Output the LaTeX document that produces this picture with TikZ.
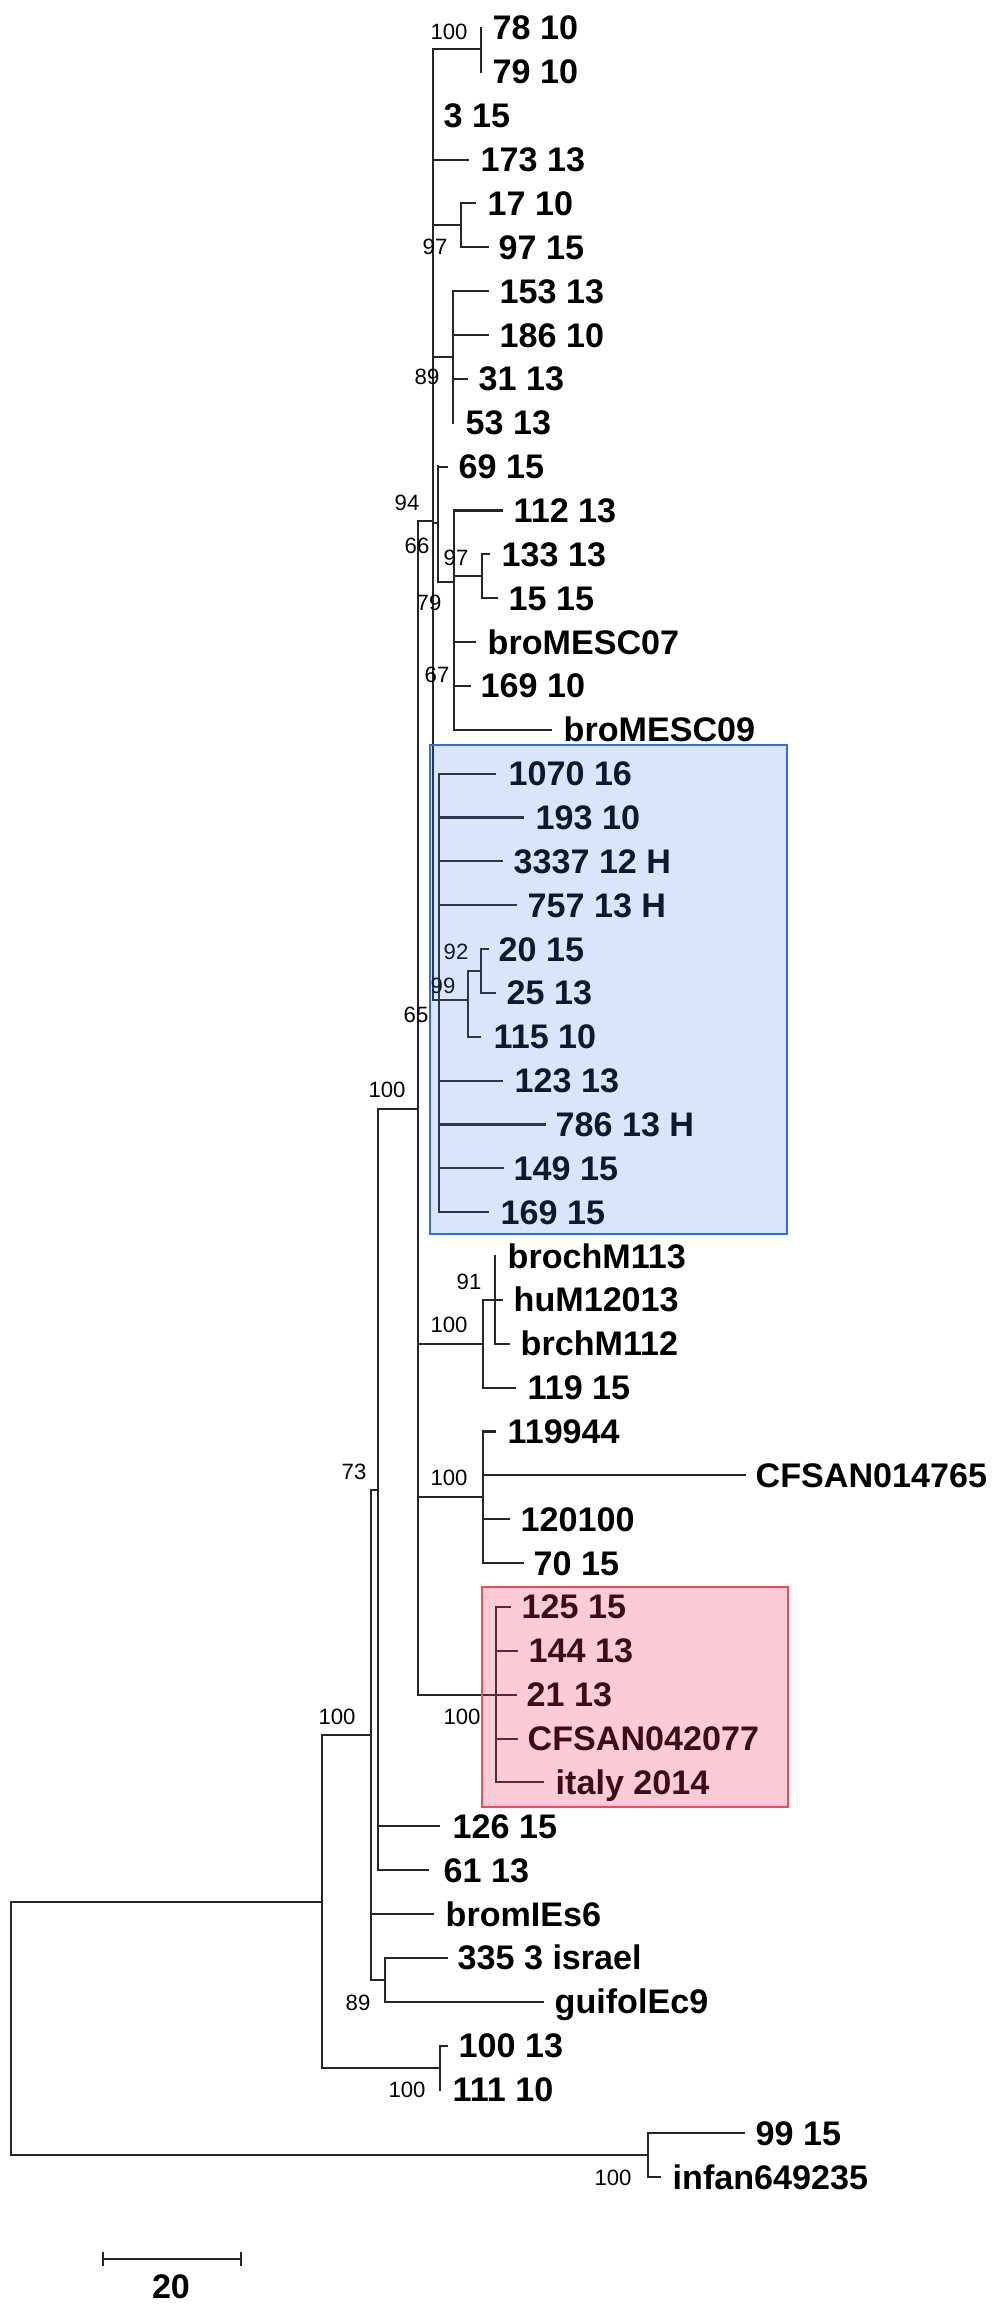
\documentclass[tikz,border=0pt]{standalone}
\usepackage{fontspec}
\setmainfont{Liberation Sans}
\usepackage{xcolor}
\usetikzlibrary{positioning}

\definecolor{boxblue}{RGB}{74,125,232}
\definecolor{boxblueline}{RGB}{45,110,225}
\definecolor{boxred}{RGB}{240,50,100}
\definecolor{boxredline}{RGB}{235,80,80}

\tikzset{
	branch/.style={line width=0.6pt, black!85, line cap=rect},
	leaf/.style={anchor=base west, inner sep=0pt, font=\fontsize{9.7}{10}\selectfont\bfseries},
	boot/.style={inner sep=0pt, font=\fontsize{6.3}{7}\selectfont},
	bluebox/.style={draw=boxblueline, line width=0.8pt, fill=boxblue, fill opacity=0.2},
	redbox/.style={draw=boxredline, line width=0.8pt, fill=boxred, fill opacity=0.25},
}

\begin{document}
\begin{tikzpicture}[x=0.01cm, y=-0.01cm]
	\useasboundingbox (0,0) rectangle (1000,2310);
	
	%//inner nodes, vertical parts
	\foreach \x/\ya/\yb in {11/1902/2155, 322/1735/2068, 371/1490/1980, 378/1109/1870,
		385/1958/2002, 440/2046/2090, 648/2133/2177, 418/521/1695, 433/49/1000,
		481/28/72, 461/203/247, 453/291/423, 438/466/582, 454/510/730, 482/554/598,
		439/774/1212, 468/972/1037, 481/949/993, 483/1300/1388, 495/1256/1344,
		483/1432/1563, 496/1607/1782}
	\draw[branch] (\x,\ya) -- (\x,\yb);
	
	%//stems
	\foreach \y/\xa/\xb in {1902/11/322, 2155/11/648, 1735/322/371, 2068/322/440,
		1490/371/378, 1980/371/385, 1109/378/418, 521/418/433, 1344/418/483,
		1497/418/483, 1695/418/496, 49/433/481, 225/433/461, 357/433/453,
		523/433/438, 582/438/454, 576/454/482, 1000/433/468, 971/468/481, 1300/483/495}
	\draw[branch] (\xa,\y) -- (\xb,\y);
	
	%//leaves: index/start/end/text
	\foreach \i/\s/\e/\t/\val in {0/481/481/492/78 10, 1/481/481/492/79 10,
		2/433/433/443/3 15, 3/433/468/480/173 13, 4/461/475/487/17 10,
		5/461/488/498/97 15, 6/453/488/499/153 13, 7/453/488/499/186 10,
		8/453/467/478/31 13, 9/453/453/465/53 13, 10/438/447/458/69 15,
		11/454/502/513/112 13, 12/482/489/501/133 13, 13/482/497/508/15 15,
		14/454/475/487/broMESC07, 15/454/470/480/169 10, 16/454/551/563/broMESC09,
		17/439/495/508/1070 16, 18/439/523/535/193 10, 19/439/502/513/3337 12 H,
		20/439/516/527/757 13 H, 21/481/488/498/20 15, 22/481/495/506/25 13,
		23/468/480/493/115 10, 24/439/502/514/123 13, 25/439/545/555/786 13 H,
		26/439/503/513/149 15, 27/439/488/500/169 15, 28/495/495/507/brochM113,
		29/495/502/513/huM12013, 30/495/509/520/brchM112, 31/483/515/527/119 15,
		32/483/495/507/119944, 33/483/745/755/CFSAN014765, 34/483/509/520/120100,
		35/483/523/533/70 15, 36/496/510/521/125 15, 37/496/517/528/144 13,
		38/496/516/526/21 13, 39/496/517/527/CFSAN042077, 40/496/543/555/italy 2014,
		41/378/439/452/126 15, 42/378/428/443/61 13, 43/371/433/445/bromIEs6,
		44/385/447/457/335 3 israel, 45/385/543/554/guifolEc9, 46/440/447/458/100 13,
		47/440/440/452/111 10, 48/648/744/755/99 15, 49/648/660/672/infan649235}
	{
		\pgfmathsetmacro{\yy}{28+43.86*\i}
		\ifdim\s pt<\e pt \draw[branch] (\s,\yy) -- (\e,\yy); \fi
		\node[leaf] (leaf\i) at (\t,\yy+12) {\val};
	}
	
	%//bootstrap values
	\foreach \x/\y/\val [count=\n] in {449/32/100, 435/247/97, 427/377/89, 407/503/94,
		417/546/66, 456/558/97, 429/603/79, 437/675/67, 456/952/92, 443/986/99,
		416/1015/65, 387/1090/100, 469/1282/91, 449/1325/100, 449/1478/100,
		354/1472/73, 337/1717/100, 462/1717/100, 358/2003/89, 407/2090/100, 613/2178/100}
	\node[boot] (boot\n) at (\x,\y) {\val};
	
	%//highlighted groups
	\draw[bluebox] (430,745) rectangle (787,1234);
	\draw[redbox] (482,1587) rectangle (788,1807);
	
	%//scale bar
	\coordinate (sbl) at (103,2259);
	\coordinate (sbr) at (241,2259);
	\draw[branch] (sbl) -- (sbr);
	\draw[branch] ([yshift=0.06cm]sbl) -- ([yshift=-0.06cm]sbl);
	\draw[branch] ([yshift=0.06cm]sbr) -- ([yshift=-0.06cm]sbr);
	\node[leaf, anchor=center] (scale) at (171,2287) {20};
	
\end{tikzpicture}
\end{document}
